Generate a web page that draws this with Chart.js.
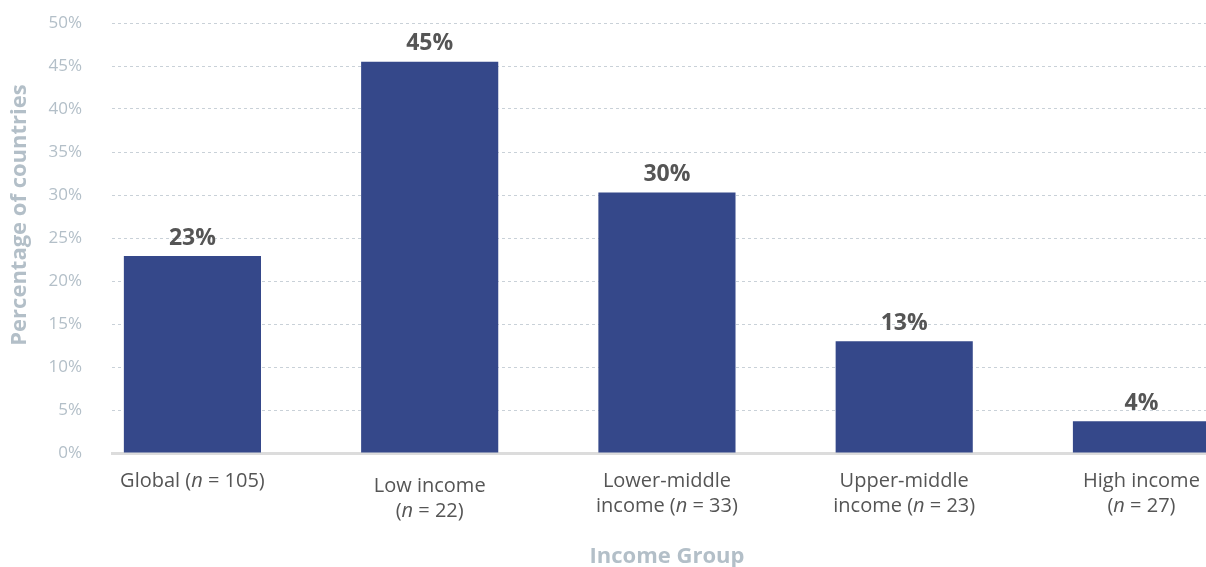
<!DOCTYPE html>
<html>
<head>
<meta charset="utf-8">
<script src="https://cdn.jsdelivr.net/npm/chart.js@4.4.0/dist/chart.umd.min.js"></script>
<style>
    html, body { margin: 0; padding: 0; background: #fff; overflow: hidden; }
    #wrap { width: 1206px; height: 567px; position: relative; }
</style>
</head>
<body>
<div id="wrap"><canvas id="incomeChart"></canvas></div>
<script>
// categories, one entry per line, *...* marks italic
const categories = [
    ['Global (*n* = 105)'],
    ['Low income', '(*n* = 22)'],
    ['Lower-middle', 'income (*n* = 33)'],
    ['Upper-middle', 'income (*n* = 23)'],
    ['High income', '(*n* = 27)']
];
const shares = [22.9, 45.5, 30.3, 13.0, 3.7];
const shareLabels = ['23%', '45%', '30%', '13%', '4%'];
const yTitle = 'Percentage of countries';
const xTitle = 'Income Group';

const FONT = '"Open Sans", Lato, sans-serif';
const PALE = '#b3bfc8';
const DARK = '#555555';

// x tick labels (with italic n), value labels and axis titles
const textPlugin = {
    id: 'textPlugin',
    afterDatasetsDraw(chart) {
        const ctx = chart.ctx;
        const x = chart.scales.x;
        const area = chart.chartArea;
        const meta = chart.getDatasetMeta(0);
        ctx.save();

        // value labels above bars
        ctx.font = 'bold 23px ' + FONT;
        ctx.fillStyle = DARK;
        ctx.textAlign = 'center';
        ctx.textBaseline = 'middle';
        meta.data.forEach((bar, i) => {
            ctx.fillText(shareLabels[i], bar.x, bar.y - 18);
        });

        // category labels
        const shift = [0, 5, 0, 0, 0];
        ctx.fillStyle = DARK;
        ctx.textAlign = 'left';
        categories.forEach((lines, i) => {
            const cx = x.getPixelForValue(i);
            lines.forEach((line, j) => {
                const parts = line.split('*');
                let total = 0;
                parts.forEach((p, k) => {
                    ctx.font = (k % 2 ? 'italic ' : '') + '20px ' + FONT;
                    total += ctx.measureText(p).width;
                });
                let px = cx - total / 2;
                const py = area.bottom + 28 + shift[i] + j * 25;
                parts.forEach((p, k) => {
                    ctx.font = (k % 2 ? 'italic ' : '') + '20px ' + FONT;
                    ctx.fillText(p, px, py);
                    px += ctx.measureText(p).width;
                });
            });
        });

        // axis titles
        ctx.fillStyle = PALE;
        ctx.font = 'bold 22px ' + FONT;
        ctx.textAlign = 'center';
        ctx.fillText(xTitle, x.getPixelForValue(2), area.bottom + 104);

        ctx.translate(20, 215);
        ctx.rotate(-Math.PI / 2);
        ctx.fillText(yTitle, 0, 0);
        ctx.restore();
    }
};

const ctx = document.getElementById('incomeChart').getContext('2d');
new Chart(ctx, {
    type: 'bar',
    data: {
        datasets: [{
            data: shares.map((v, i) => ({ x: i, y: v })),
            backgroundColor: '#35488a',
            borderWidth: 0,
            categoryPercentage: 1,
            barPercentage: 0.578
        }]
    },
    options: {
        responsive: true,
        maintainAspectRatio: false,
        animation: false,
        layout: {
            padding: { top: 23, bottom: 114, left: 0, right: 0 }
        },
        plugins: {
            legend: { display: false },
            tooltip: { enabled: false }
        },
        scales: {
            x: {
                type: 'linear',
                min: -0.339,
                max: 4.272,
                offset: false,
                grid: { display: false, drawTicks: false },
                ticks: { display: false, stepSize: 1, includeBounds: false },
                border: { color: '#dcdcdc', width: 3 }
            },
            y: {
                min: 0,
                max: 50,
                afterFit: (s) => { s.width = 112; },
                ticks: {
                    stepSize: 5,
                    padding: 0,
                    color: PALE,
                    font: { family: FONT, size: 17 },
                    callback: (v) => v + '%'
                },
                grid: {
                    color: '#c9d1d8',
                    lineWidth: 1,
                    drawTicks: true,
                    tickLength: 30,
                    tickColor: 'rgba(0,0,0,0)'
                },
                border: { display: false, dash: [3, 3] }
            }
        }
    },
    plugins: [textPlugin]
});
</script>
</body>
</html>
